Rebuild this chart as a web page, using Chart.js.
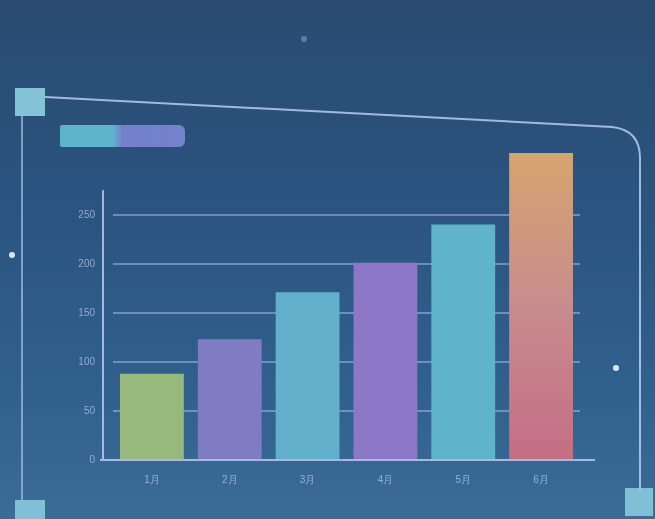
<!DOCTYPE html>
<html>
<head>
<meta charset="utf-8">
<script src="https://cdn.jsdelivr.net/npm/chart.js@4.4.1/dist/chart.umd.min.js"></script>
<style>
  html, body { margin: 0; padding: 0; }
  body {
    width: 655px; height: 519px; overflow: hidden; position: relative;
    background: linear-gradient(180deg, #294b71 0%, #2b5480 40%, #30608c 75%, #3b6c98 100%);
    font-family: "Noto Sans", sans-serif;
  }
  #frame { position: absolute; left: 0; top: 0; }
  .legend-bar {
    position: absolute; left: 60px; top: 125px; width: 125px; height: 22px;
    border-radius: 2px 6px 6px 2px;
    background: linear-gradient(90deg, #62c0d6 0%, #62c0d6 42%, #7d84d6 50%, #7b88d4 100%);
    opacity: 0.9;
  }
  #wrap { position: absolute; left: 0; top: 0; width: 655px; height: 519px; }
</style>
</head>
<body>
<svg id="frame" width="655" height="519">
  <path d="M45 97 L612 127 Q640 130 640 158 L640 492" fill="none" stroke="rgba(185,205,240,0.85)" stroke-width="2"/>
  <line x1="22" y1="116" x2="22" y2="500" stroke="rgba(170,190,235,0.7)" stroke-width="2"/>
  <rect x="15" y="88" width="30" height="28" fill="#8ccfe0" opacity="0.9"/>
  <rect x="15" y="500" width="30" height="19" fill="#8ccfe0" opacity="0.85"/>
  <rect x="625" y="488" width="28" height="28" fill="#8ccfe0" opacity="0.85"/>
  <circle cx="12" cy="255" r="3" fill="#d8e6f5"/>
  <circle cx="616" cy="368" r="3" fill="#d8e6f5"/>
  <circle cx="304" cy="39" r="3" fill="rgba(150,170,220,0.5)"/>
</svg>
<div class="legend-bar"></div>
<div id="wrap"><canvas id="myChart" width="655" height="519"></canvas></div>
<script>
const categories = ['1月', '2月', '3月', '4月', '5月', '6月'];
const values = [88, 123, 171, 201, 240, 313];
const tickValues = [0, 50, 100, 150, 200, 250];
const tickLabels = ['0', '50', '100', '150', '200', '250'];
const barColors = ['#98b97c', '#807cc4', '#62b0cb', '#8d78c8', '#5fb4cc', null];

// y axis line and x baseline, drawn from the scales
const axisLines = {
    id: 'axisLines',
    afterDatasetsDraw(chart) {
        const ctx = chart.ctx;
        const y = chart.scales.y;
        const area = chart.chartArea;
        const x0 = area.left - 10;
        ctx.save();
        ctx.strokeStyle = 'rgba(185,200,240,0.85)';
        ctx.lineWidth = 2;
        ctx.beginPath();
        ctx.moveTo(x0, y.getPixelForValue(0));
        ctx.lineTo(x0, y.getPixelForValue(275));
        ctx.moveTo(x0 - 3, y.getPixelForValue(0));
        ctx.lineTo(area.right + 15, y.getPixelForValue(0));
        ctx.stroke();
        ctx.restore();
    }
};

const ctx = document.getElementById('myChart').getContext('2d');
new Chart(ctx, {
    type: 'bar',
    data: {
        labels: categories,
        datasets: [{
            data: values,
            backgroundColor: function(c) {
                const col = barColors[c.dataIndex];
                if (col) return col;
                const area = c.chart.chartArea;
                if (!area) return '#c98890';
                const g = c.chart.ctx.createLinearGradient(0, area.top, 0, area.bottom);
                g.addColorStop(0, '#d6a56e');
                g.addColorStop(0.5, '#c88c8e');
                g.addColorStop(1, '#c46e84');
                return g;
            },
            borderWidth: 0,
            barPercentage: 0.82,
            categoryPercentage: 1
        }]
    },
    options: {
        responsive: false,
        animation: false,
        layout: { padding: { left: 65, right: 75, top: 151, bottom: 34 } },
        plugins: { legend: { display: false }, tooltip: { enabled: false } },
        scales: {
            x: {
                grid: { display: false },
                border: { display: false },
                ticks: { color: 'rgba(200,212,240,0.65)', font: { size: 10 }, padding: 6 },
                afterFit(scale) { scale.height = 25; }
            },
            y: {
                min: 0,
                max: 315,
                afterBuildTicks(scale) { scale.ticks = tickValues.map(v => ({ value: v })); },
                afterFit(scale) { scale.width = 48; },
                grid: {
                    color: c => c.tick && c.tick.value > 0 ? 'rgba(170,180,235,0.55)' : 'rgba(0,0,0,0)',
                    lineWidth: 2,
                    drawTicks: false
                },
                border: { display: false },
                ticks: {
                    color: 'rgba(200,212,240,0.65)',
                    font: { size: 10 },
                    padding: 18,
                    callback: (v) => tickLabels[tickValues.indexOf(v)]
                }
            }
        }
    },
    plugins: [axisLines]
});
</script>
</body>
</html>
